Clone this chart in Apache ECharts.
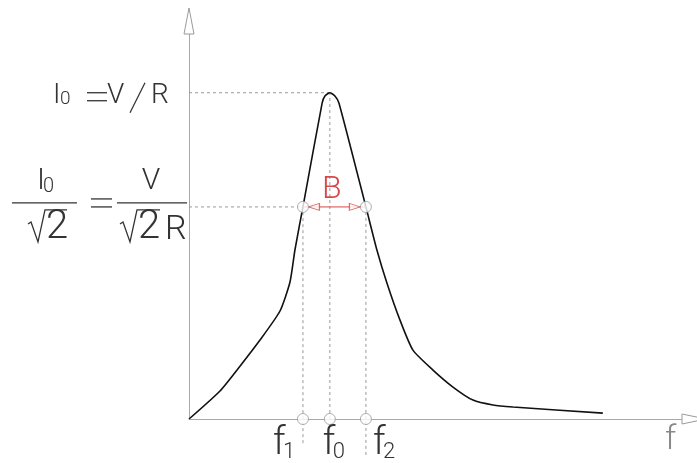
<!DOCTYPE html>
<html>
<head>
<meta charset="utf-8">
<script src="https://cdn.jsdelivr.net/npm/echarts@6/dist/echarts.min.js"></script>
<style>
  html, body { margin: 0; padding: 0; background: #fff; }
  #main { width: 697px; height: 463px; }
</style>
</head>
<body>
<div id="main"></div>
<script>
// resonance curve: frequency in units of f0, current in units of I0
var freq = [0, 0.22, 0.362, 0.504, 0.646, 0.717, 0.752, 0.809, 0.945, 0.965, 1.0, 1.036, 1.065,
  1.256, 1.334, 1.405, 1.498, 1.59, 1.732, 1.874, 2.016, 2.158, 2.3, 2.938];
var current = [0, 0.086, 0.162, 0.242, 0.331, 0.42, 0.518, 0.65, 0.968, 0.99, 1.0, 0.99, 0.968,
  0.65, 0.518, 0.417, 0.303, 0.211, 0.15, 0.098, 0.058, 0.043, 0.037, 0.018];
var fMarks = [0.809, 1.0, 1.256];   // f1, f0, f2
var fSubs = ['1', '0', '2'];
var peak = 1.0;
var halfPower = 0.65;

var GRAY = '#9a9a9a';
var INK = '#333';
var RED = '#d9474a';
var FONT = 'Roboto';

var chart = echarts.init(document.getElementById('main'));

var curve = freq.map(function (f, i) { return [f, current[i]]; });

function guide(data) {
  return {
    type: 'line', data: data, symbol: 'none', silent: true, clip: false, z: 1,
    lineStyle: { color: GRAY, width: 1, type: [3, 3] }
  };
}

chart.setOption({
  animation: false,
  grid: { left: 189, right: 15, top: 34, bottom: 44 },
  xAxis: {
    type: 'value', min: 0, max: 3.5,
    axisLine: { lineStyle: { color: '#a8a8a8', width: 1 } },
    axisTick: { show: false }, axisLabel: { show: false }, splitLine: { show: false }
  },
  yAxis: {
    type: 'value', min: 0, max: 1.18,
    axisLine: { show: true, lineStyle: { color: '#a8a8a8', width: 1 } },
    axisTick: { show: false }, axisLabel: { show: false }, splitLine: { show: false }
  },
  series: [
    guide([[0, peak], [fMarks[1], peak]]),
    guide([[0, halfPower], [fMarks[0], halfPower]]),
    guide([[fMarks[0], -0.074], [fMarks[0], halfPower]]),
    guide([[fMarks[1], 0], [fMarks[1], peak]]),
    guide([[fMarks[2], -0.11], [fMarks[2], halfPower]]),
    {
      type: 'line', data: curve, symbol: 'none', z: 3, smooth: 0.2,
      lineStyle: { color: '#111', width: 1.6 }
    },
    {
      // bandwidth arrow
      type: 'line', data: [[fMarks[0], halfPower], [fMarks[2], halfPower]], symbol: 'none', z: 4,
      lineStyle: { color: RED, width: 1 }
    },
    {
      type: 'scatter', z: 6, clip: false, symbol: 'triangle', symbolSize: [7, 11],
      itemStyle: { color: '#fff', borderColor: RED, borderWidth: 1 },
      data: [
        { value: [fMarks[0], halfPower], symbolRotate: 90, symbolOffset: [11, 0] },
        { value: [fMarks[2], halfPower], symbolRotate: -90, symbolOffset: [-11, 0] }
      ]
    },
    {
      type: 'scatter', z: 7, clip: false, symbol: 'circle', symbolSize: 11,
      itemStyle: { color: '#fff', borderColor: GRAY, borderWidth: 1 },
      data: [
        [fMarks[0], 0], [fMarks[1], 0], [fMarks[2], 0],
        [fMarks[0], halfPower], [fMarks[2], halfPower]
      ]
    }
  ]
});

function txt(x, y, s, size, color, align) {
  return {
    type: 'text', z: 20, silent: true,
    style: { x: x, y: y, text: s, fill: color || INK, align: align || 'left',
      verticalAlign: 'bottom', font: '300 ' + size + 'px ' + FONT }
  };
}
function seg(x1, y1, x2, y2, color, w) {
  return { type: 'line', z: 20, silent: true,
    shape: { x1: x1, y1: y1, x2: x2, y2: y2 },
    style: { stroke: color || INK, lineWidth: w || 1.3 } };
}
function radical(x, y, w) {
  return { type: 'polyline', z: 20, silent: true,
    shape: { points: [[x, y + 14], [x + 3, y + 12], [x + 10, y + 32], [x + 17, y], [x + 17 + w, y]] },
    style: { stroke: INK, lineWidth: 1.3, fill: null } };
}

var g = [];
var o = chart.convertToPixel({ gridIndex: 0 }, [0, 0]);
var yTop = chart.convertToPixel({ gridIndex: 0 }, [0, 1.18]);
var xEnd = chart.convertToPixel({ gridIndex: 0 }, [3.5, 0]);
// axis arrows (open)
g.push({ type: 'polygon', z: 15, shape: { points: [[o[0], yTop[1] - 26], [o[0] - 5, yTop[1]], [o[0] + 5, yTop[1]]] },
  style: { fill: '#fff', stroke: GRAY, lineWidth: 1 } });
g.push({ type: 'polygon', z: 15, shape: { points: [[xEnd[0] + 24, o[1]], [xEnd[0], o[1] - 5], [xEnd[0], o[1] + 5]] },
  style: { fill: '#fff', stroke: GRAY, lineWidth: 1 } });
g.push(txt(xEnd[0] - 17, o[1] + 38, 'f', 34, '#888'));

// f1, f0, f2 labels
var fOff = [-30, -7, 7];
fMarks.forEach(function (f, i) {
  var p = chart.convertToPixel({ gridIndex: 0 }, [f, 0]);
  g.push(txt(p[0] + fOff[i], o[1] + 44, 'f', 38));
  g.push(txt(p[0] + fOff[i] + 10, o[1] + 44, fSubs[i], 22));
});

// B label
var pb = chart.convertToPixel({ gridIndex: 0 }, [fMarks[1], halfPower]);
g.push(txt(pb[0] + 2, pb[1] - 1, 'B', 32, RED, 'center'));

// I0 = V/R
var pp = chart.convertToPixel({ gridIndex: 0 }, [0, peak]);
g.push(txt(53, pp[1] + 17, 'I', 28));
g.push(txt(60, pp[1] + 16, '0', 19));
g.push(seg(87, pp[1], 107, pp[1]));
g.push(seg(87, pp[1] + 8, 107, pp[1] + 8));
g.push(txt(107, pp[1] + 17, 'V', 28));
g.push(seg(145, pp[1] - 10, 130, pp[1] + 20));
g.push(txt(151, pp[1] + 17, 'R', 28));

// I0/sqrt2 = V/(sqrt2 R)
var ph = chart.convertToPixel({ gridIndex: 0 }, [0, halfPower]);
var yb = ph[1] - 4;
g.push(seg(12, yb, 77, yb));
g.push(txt(37, yb - 6, 'I', 30));
g.push(txt(43, yb - 6, '0', 20));
g.push(radical(28, yb + 7, 22));
g.push(txt(46, yb + 45, '2', 40));
g.push(seg(91, yb - 4, 112, yb - 4));
g.push(seg(91, yb + 4, 112, yb + 4));
g.push(seg(117, yb, 187, yb));
g.push(txt(151, yb - 6, 'V', 30, INK, 'center'));
g.push(radical(120, yb + 7, 23));
g.push(txt(138, yb + 45, '2', 40));
g.push(txt(165, yb + 45, 'R', 34));

chart.setOption({ graphic: g });
</script>
</body>
</html>
